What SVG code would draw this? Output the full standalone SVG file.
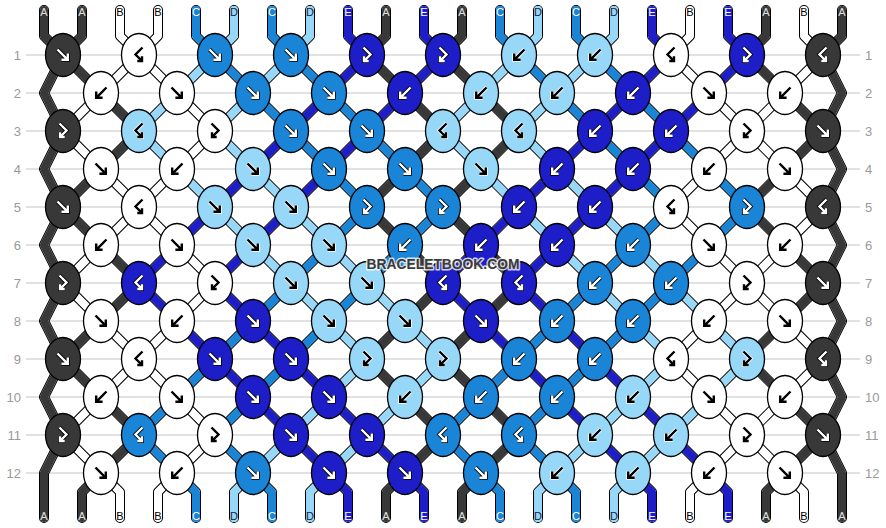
<svg xmlns="http://www.w3.org/2000/svg" width="886" height="528" viewBox="0 0 886 528">
<style>
.rl{stroke:#c4c4c4;stroke-width:1}
.rn{font-family:"Liberation Sans",Arial,sans-serif;font-size:13px;fill:#999}
.rnl{text-anchor:end}
.ol{fill:none;stroke:#000;stroke-width:10;stroke-linecap:round;stroke-linejoin:round}
.wh{fill:none;stroke:#fff;stroke-width:8;stroke-linecap:round;stroke-linejoin:round}
.cA,.cC,.cD,.cE{fill:none;stroke-width:8;stroke-linecap:round;stroke-linejoin:round}
.cA{stroke:#383838}.cC{stroke:#1a84d6}.cD{stroke:#97d7f7}.cE{stroke:#1e1ec8}
.sl{font-family:"Liberation Sans",Arial,sans-serif;font-size:11px;text-anchor:middle}
.tA{fill:#e0e0e0}.tB{fill:#000}.tC{fill:#fff}.tD{fill:#1a1a40}.tE{fill:#fff}
.ar{fill:none;stroke-linecap:butt;stroke-linejoin:miter}
</style>
<defs>
<ellipse id="eA" rx="17.5" ry="21.5" fill="#383838" stroke="#000" stroke-width="1.3"/>
<ellipse id="eB" rx="17.5" ry="21.5" fill="#fff" stroke="#000" stroke-width="1.3"/>
<ellipse id="eC" rx="17.5" ry="21.5" fill="#1a84d6" stroke="#000" stroke-width="1.3"/>
<ellipse id="eD" rx="17.5" ry="21.5" fill="#97d7f7" stroke="#000" stroke-width="1.3"/>
<ellipse id="eE" rx="17.5" ry="21.5" fill="#1e1ec8" stroke="#000" stroke-width="1.3"/>
<path id="pF" d="M-5.5,-5.5L4.8,4.8M4.8,-1.6V4.8H-1.6"/>
<path id="pB" d="M5.5,-5.5L-4.8,4.8M-4.8,-1.6V4.8H1.6"/>
<path id="pFB" d="M-3.5,-7.5L3.5,-0.5L-3,6M-3,1.3V6H1.7"/>
<path id="pBF" d="M3.5,-7.5L-3.5,-0.5L3,6M3,1.3V6H-1.7"/>
<g id="Fw" class="ar"><use href="#pF" stroke="#000" stroke-width="4"/><use href="#pF" stroke="#fff" stroke-width="2.4"/></g>
<g id="Bw" class="ar"><use href="#pB" stroke="#000" stroke-width="4"/><use href="#pB" stroke="#fff" stroke-width="2.4"/></g>
<g id="FBw" class="ar"><use href="#pFB" stroke="#000" stroke-width="4"/><use href="#pFB" stroke="#fff" stroke-width="2.4"/></g>
<g id="BFw" class="ar"><use href="#pBF" stroke="#000" stroke-width="4"/><use href="#pBF" stroke="#fff" stroke-width="2.4"/></g>
<g id="Fb" class="ar"><use href="#pF" stroke="#fff" stroke-width="4"/><use href="#pF" stroke="#000" stroke-width="2.4"/></g>
<g id="Bb" class="ar"><use href="#pB" stroke="#fff" stroke-width="4"/><use href="#pB" stroke="#000" stroke-width="2.4"/></g>
<g id="FBb" class="ar"><use href="#pFB" stroke="#fff" stroke-width="4"/><use href="#pFB" stroke="#000" stroke-width="2.4"/></g>
<g id="BFb" class="ar"><use href="#pBF" stroke="#fff" stroke-width="4"/><use href="#pBF" stroke="#000" stroke-width="2.4"/></g>
<path id="zE" d="M0,10V36L19,55L-19,93L19,131L-19,169L19,207L-19,245L19,283L-19,321L19,359L-19,397L19,435L-19,473L0,492V518"/>
<path id="zO" d="M0,10V36L-19,55L19,93L-19,131L19,169L-19,207L19,245L-19,283L19,321L-19,359L19,397L-19,435L19,473L0,492V518"/>
<path id="z0" d="M0,10V36L19,55L0,93L19,131L0,169L19,207L0,245L19,283L0,321L19,359L0,397L19,435L0,473V518"/>
<path id="z21" d="M0,10V36L-19,55L0,93L-19,131L0,169L-19,207L0,245L-19,283L0,321L-19,359L0,397L-19,435L0,473V518"/>
<g id="allz">
<use href="#z0" x="44"/><use href="#zO" x="82"/><use href="#zE" x="120"/><use href="#zO" x="158"/><use href="#zE" x="196"/><use href="#zO" x="234"/><use href="#zE" x="272"/><use href="#zO" x="310"/><use href="#zE" x="348"/><use href="#zO" x="386"/><use href="#zE" x="424"/><use href="#zO" x="462"/><use href="#zE" x="500"/><use href="#zO" x="538"/><use href="#zE" x="576"/><use href="#zO" x="614"/><use href="#zE" x="652"/><use href="#zO" x="690"/><use href="#zE" x="728"/><use href="#zO" x="766"/><use href="#zE" x="804"/><use href="#z21" x="842"/>
</g>
<g id="c1"><path class="cA" d="M0,10V36L-19,55L19,93M19,169L-19,207L19,245M19,321L-19,359L19,397M19,473L0,492V518"/></g>
<g id="c2"><path class="cA" d="M-19,93L19,131L-19,169M-19,245L19,283L-19,321M-19,397L19,435L-19,473"/></g>
<g id="c3"><path class="cD" d="M19,93L-19,131L19,169"/><path class="cE" d="M19,245L-19,283L19,321"/><path class="cC" d="M19,397L-19,435L19,473"/></g>
<g id="c4"><path class="cC" d="M0,10V36L19,55M19,359L-19,397M-19,473L0,492V518"/><path class="cD" d="M19,55L-19,93M-19,169L19,207"/><path class="cE" d="M19,207L-19,245M-19,321L19,359"/></g>
<g id="c5"><path class="cD" d="M0,10V36L-19,55M19,93L-19,131L19,169M-19,207L19,245M19,473L0,492V518"/><path class="cC" d="M-19,55L19,93M19,321L-19,359M19,397L-19,435L19,473"/><path class="cE" d="M19,169L-19,207M19,245L-19,283L19,321M-19,359L19,397"/></g>
<g id="c6"><path class="cC" d="M0,10V36L19,55M-19,93L19,131M19,283L-19,321M19,359L-19,397M-19,473L0,492V518"/><path class="cD" d="M19,55L-19,93M-19,169L19,207M-19,245L19,283M19,435L-19,473"/><path class="cE" d="M19,131L-19,169M19,207L-19,245M-19,321L19,359M-19,397L19,435"/></g>
<g id="c7"><path class="cD" d="M0,10V36L-19,55M-19,207L19,245M-19,283L19,321M19,397L-19,435M19,473L0,492V518"/><path class="cC" d="M-19,55L19,93M-19,131L19,169M19,245L-19,283M19,321L-19,359"/><path class="cE" d="M19,93L-19,131M19,169L-19,207M-19,359L19,397M-19,435L19,473"/></g>
<g id="c8"><path class="cE" d="M0,10V36L19,55L-19,93M19,131L-19,169M-19,397L19,435M-19,473L0,492V518"/><path class="cC" d="M-19,93L19,131M-19,169L19,207L-19,245M19,283L-19,321"/><path class="cD" d="M-19,245L19,283M-19,321L19,359L-19,397M19,435L-19,473"/></g>
<g id="c9"><path class="cA" d="M0,10V36L-19,55L19,93M19,169L-19,207L19,245M19,321L-19,359L19,397M19,473L0,492V518"/><path class="cE" d="M19,93L-19,131M-19,435L19,473"/><path class="cC" d="M-19,131L19,169M19,245L-19,283"/><path class="cD" d="M-19,283L19,321M19,397L-19,435"/></g>
<g id="c10"><path class="cE" d="M0,10V36L19,55L-19,93M-19,473L0,492V518"/><path class="cA" d="M-19,93L19,131L-19,169M-19,245L19,283L-19,321M-19,397L19,435L-19,473"/><path class="cC" d="M-19,169L19,207L-19,245"/><path class="cD" d="M-19,321L19,359L-19,397"/></g>
<g id="c11"><path class="cA" d="M0,10V36L-19,55L19,93M19,169L-19,207L19,245M19,321L-19,359L19,397M19,473L0,492V518"/><path class="cD" d="M19,93L-19,131L19,169"/><path class="cE" d="M19,245L-19,283L19,321"/><path class="cC" d="M19,397L-19,435L19,473"/></g>
<g id="c12"><path class="cC" d="M0,10V36L19,55M19,359L-19,397M-19,473L0,492V518"/><path class="cD" d="M19,55L-19,93M-19,169L19,207"/><path class="cA" d="M-19,93L19,131L-19,169M-19,245L19,283L-19,321M-19,397L19,435L-19,473"/><path class="cE" d="M19,207L-19,245M-19,321L19,359"/></g>
<g id="c17"><path class="cE" d="M19,93L-19,131M-19,435L19,473"/><path class="cC" d="M-19,131L19,169M19,245L-19,283"/><path class="cD" d="M-19,283L19,321M19,397L-19,435"/></g>
<g id="c18"><path class="cE" d="M0,10V36L19,55L-19,93M-19,473L0,492V518"/><path class="cC" d="M-19,169L19,207L-19,245"/><path class="cD" d="M-19,321L19,359L-19,397"/></g>
</defs>
<rect width="886" height="528" fill="#fff"/>
<g id="rows">
<path class="rl" d="M26,55H860M26,93H860M26,131H860M26,169H860M26,207H860M26,245H860M26,283H860M26,321H860M26,359H860M26,397H860M26,435H860M26,473H860"/>
<g class="rn rnl">
<text x="21" y="59.5">1</text><text x="21" y="97.5">2</text><text x="21" y="135.5">3</text><text x="21" y="173.5">4</text><text x="21" y="211.5">5</text><text x="21" y="249.5">6</text><text x="21" y="287.5">7</text><text x="21" y="325.5">8</text><text x="21" y="363.5">9</text><text x="21" y="401.5">10</text><text x="21" y="439.5">11</text><text x="21" y="477.5">12</text>
</g>
<g class="rn">
<text x="865" y="59.5">1</text><text x="865" y="97.5">2</text><text x="865" y="135.5">3</text><text x="865" y="173.5">4</text><text x="865" y="211.5">5</text><text x="865" y="249.5">6</text><text x="865" y="287.5">7</text><text x="865" y="325.5">8</text><text x="865" y="363.5">9</text><text x="865" y="401.5">10</text><text x="865" y="439.5">11</text><text x="865" y="477.5">12</text>
</g>
</g>
<g id="connectors">
<use href="#allz" class="ol"/>
<use href="#allz" class="wh"/>
<use href="#z0" x="44" class="cA"/><use href="#z21" x="842" class="cA"/>
<use href="#c1" x="82"/><use href="#c2" x="120"/><use href="#c3" x="158"/><use href="#c4" x="196"/><use href="#c5" x="234"/><use href="#c6" x="272"/><use href="#c7" x="310"/><use href="#c8" x="348"/><use href="#c9" x="386"/><use href="#c10" x="424"/><use href="#c11" x="462"/><use href="#c12" x="500"/><use href="#c5" x="538"/><use href="#c6" x="576"/><use href="#c7" x="614"/><use href="#c8" x="652"/><use href="#c17" x="690"/><use href="#c18" x="728"/><use href="#c1" x="766"/><use href="#c2" x="804"/>
</g>
<g id="knots">
<g id="n1-1" transform="translate(63,55)"><use href="#eA"/><use href="#Fw"/></g>
<g id="n1-2" transform="translate(139,55)"><use href="#eB"/><use href="#BFb"/></g>
<g id="n1-3" transform="translate(215,55)"><use href="#eC"/><use href="#Fw"/></g>
<g id="n1-4" transform="translate(291,55)"><use href="#eC"/><use href="#Fw"/></g>
<g id="n1-5" transform="translate(367,55)"><use href="#eE"/><use href="#FBw"/></g>
<g id="n1-6" transform="translate(443,55)"><use href="#eE"/><use href="#FBw"/></g>
<g id="n1-7" transform="translate(519,55)"><use href="#eD"/><use href="#Bb"/></g>
<g id="n1-8" transform="translate(595,55)"><use href="#eD"/><use href="#Bb"/></g>
<g id="n1-9" transform="translate(671,55)"><use href="#eB"/><use href="#BFb"/></g>
<g id="n1-10" transform="translate(747,55)"><use href="#eE"/><use href="#FBw"/></g>
<g id="n1-11" transform="translate(823,55)"><use href="#eA"/><use href="#BFw"/></g>

<g id="n2-1" transform="translate(101,93)"><use href="#eB"/><use href="#Bb"/></g>
<g id="n2-2" transform="translate(177,93)"><use href="#eB"/><use href="#Fb"/></g>
<g id="n2-3" transform="translate(253,93)"><use href="#eC"/><use href="#Fw"/></g>
<g id="n2-4" transform="translate(329,93)"><use href="#eC"/><use href="#Fw"/></g>
<g id="n2-5" transform="translate(405,93)"><use href="#eE"/><use href="#Bw"/></g>
<g id="n2-6" transform="translate(481,93)"><use href="#eD"/><use href="#Bb"/></g>
<g id="n2-7" transform="translate(557,93)"><use href="#eD"/><use href="#Bb"/></g>
<g id="n2-8" transform="translate(633,93)"><use href="#eE"/><use href="#Bw"/></g>
<g id="n2-9" transform="translate(709,93)"><use href="#eB"/><use href="#Fb"/></g>
<g id="n2-10" transform="translate(785,93)"><use href="#eB"/><use href="#Bb"/></g>

<g id="n3-1" transform="translate(63,131)"><use href="#eA"/><use href="#FBw"/></g>
<g id="n3-2" transform="translate(139,131)"><use href="#eD"/><use href="#BFb"/></g>
<g id="n3-3" transform="translate(215,131)"><use href="#eB"/><use href="#FBb"/></g>
<g id="n3-4" transform="translate(291,131)"><use href="#eC"/><use href="#Fw"/></g>
<g id="n3-5" transform="translate(367,131)"><use href="#eC"/><use href="#Fw"/></g>
<g id="n3-6" transform="translate(443,131)"><use href="#eD"/><use href="#BFb"/></g>
<g id="n3-7" transform="translate(519,131)"><use href="#eD"/><use href="#BFb"/></g>
<g id="n3-8" transform="translate(595,131)"><use href="#eE"/><use href="#Bw"/></g>
<g id="n3-9" transform="translate(671,131)"><use href="#eE"/><use href="#Bw"/></g>
<g id="n3-10" transform="translate(747,131)"><use href="#eB"/><use href="#FBb"/></g>
<g id="n3-11" transform="translate(823,131)"><use href="#eA"/><use href="#Fw"/></g>

<g id="n4-1" transform="translate(101,169)"><use href="#eB"/><use href="#Fb"/></g>
<g id="n4-2" transform="translate(177,169)"><use href="#eB"/><use href="#Bb"/></g>
<g id="n4-3" transform="translate(253,169)"><use href="#eD"/><use href="#Fb"/></g>
<g id="n4-4" transform="translate(329,169)"><use href="#eC"/><use href="#Fw"/></g>
<g id="n4-5" transform="translate(405,169)"><use href="#eC"/><use href="#Fw"/></g>
<g id="n4-6" transform="translate(481,169)"><use href="#eD"/><use href="#Fb"/></g>
<g id="n4-7" transform="translate(557,169)"><use href="#eE"/><use href="#Bw"/></g>
<g id="n4-8" transform="translate(633,169)"><use href="#eE"/><use href="#Bw"/></g>
<g id="n4-9" transform="translate(709,169)"><use href="#eB"/><use href="#Bb"/></g>
<g id="n4-10" transform="translate(785,169)"><use href="#eB"/><use href="#Fb"/></g>

<g id="n5-1" transform="translate(63,207)"><use href="#eA"/><use href="#Fw"/></g>
<g id="n5-2" transform="translate(139,207)"><use href="#eB"/><use href="#BFb"/></g>
<g id="n5-3" transform="translate(215,207)"><use href="#eD"/><use href="#Fb"/></g>
<g id="n5-4" transform="translate(291,207)"><use href="#eD"/><use href="#Fb"/></g>
<g id="n5-5" transform="translate(367,207)"><use href="#eC"/><use href="#FBw"/></g>
<g id="n5-6" transform="translate(443,207)"><use href="#eC"/><use href="#FBw"/></g>
<g id="n5-7" transform="translate(519,207)"><use href="#eE"/><use href="#Bw"/></g>
<g id="n5-8" transform="translate(595,207)"><use href="#eE"/><use href="#Bw"/></g>
<g id="n5-9" transform="translate(671,207)"><use href="#eB"/><use href="#BFb"/></g>
<g id="n5-10" transform="translate(747,207)"><use href="#eC"/><use href="#FBw"/></g>
<g id="n5-11" transform="translate(823,207)"><use href="#eA"/><use href="#BFw"/></g>

<g id="n6-1" transform="translate(101,245)"><use href="#eB"/><use href="#Bb"/></g>
<g id="n6-2" transform="translate(177,245)"><use href="#eB"/><use href="#Fb"/></g>
<g id="n6-3" transform="translate(253,245)"><use href="#eD"/><use href="#Fb"/></g>
<g id="n6-4" transform="translate(329,245)"><use href="#eD"/><use href="#Fb"/></g>
<g id="n6-5" transform="translate(405,245)"><use href="#eC"/><use href="#Bw"/></g>
<g id="n6-6" transform="translate(481,245)"><use href="#eE"/><use href="#Bw"/></g>
<g id="n6-7" transform="translate(557,245)"><use href="#eE"/><use href="#Bw"/></g>
<g id="n6-8" transform="translate(633,245)"><use href="#eC"/><use href="#Bw"/></g>
<g id="n6-9" transform="translate(709,245)"><use href="#eB"/><use href="#Fb"/></g>
<g id="n6-10" transform="translate(785,245)"><use href="#eB"/><use href="#Bb"/></g>

<g id="n7-1" transform="translate(63,283)"><use href="#eA"/><use href="#FBw"/></g>
<g id="n7-2" transform="translate(139,283)"><use href="#eE"/><use href="#BFw"/></g>
<g id="n7-3" transform="translate(215,283)"><use href="#eB"/><use href="#FBb"/></g>
<g id="n7-4" transform="translate(291,283)"><use href="#eD"/><use href="#Fb"/></g>
<g id="n7-5" transform="translate(367,283)"><use href="#eD"/><use href="#Fb"/></g>
<g id="n7-6" transform="translate(443,283)"><use href="#eE"/><use href="#BFw"/></g>
<g id="n7-7" transform="translate(519,283)"><use href="#eE"/><use href="#BFw"/></g>
<g id="n7-8" transform="translate(595,283)"><use href="#eC"/><use href="#Bw"/></g>
<g id="n7-9" transform="translate(671,283)"><use href="#eC"/><use href="#Bw"/></g>
<g id="n7-10" transform="translate(747,283)"><use href="#eB"/><use href="#FBb"/></g>
<g id="n7-11" transform="translate(823,283)"><use href="#eA"/><use href="#Fw"/></g>

<g id="n8-1" transform="translate(101,321)"><use href="#eB"/><use href="#Fb"/></g>
<g id="n8-2" transform="translate(177,321)"><use href="#eB"/><use href="#Bb"/></g>
<g id="n8-3" transform="translate(253,321)"><use href="#eE"/><use href="#Fw"/></g>
<g id="n8-4" transform="translate(329,321)"><use href="#eD"/><use href="#Fb"/></g>
<g id="n8-5" transform="translate(405,321)"><use href="#eD"/><use href="#Fb"/></g>
<g id="n8-6" transform="translate(481,321)"><use href="#eE"/><use href="#Fw"/></g>
<g id="n8-7" transform="translate(557,321)"><use href="#eC"/><use href="#Bw"/></g>
<g id="n8-8" transform="translate(633,321)"><use href="#eC"/><use href="#Bw"/></g>
<g id="n8-9" transform="translate(709,321)"><use href="#eB"/><use href="#Bb"/></g>
<g id="n8-10" transform="translate(785,321)"><use href="#eB"/><use href="#Fb"/></g>

<g id="n9-1" transform="translate(63,359)"><use href="#eA"/><use href="#Fw"/></g>
<g id="n9-2" transform="translate(139,359)"><use href="#eB"/><use href="#BFb"/></g>
<g id="n9-3" transform="translate(215,359)"><use href="#eE"/><use href="#Fw"/></g>
<g id="n9-4" transform="translate(291,359)"><use href="#eE"/><use href="#Fw"/></g>
<g id="n9-5" transform="translate(367,359)"><use href="#eD"/><use href="#FBb"/></g>
<g id="n9-6" transform="translate(443,359)"><use href="#eD"/><use href="#FBb"/></g>
<g id="n9-7" transform="translate(519,359)"><use href="#eC"/><use href="#Bw"/></g>
<g id="n9-8" transform="translate(595,359)"><use href="#eC"/><use href="#Bw"/></g>
<g id="n9-9" transform="translate(671,359)"><use href="#eB"/><use href="#BFb"/></g>
<g id="n9-10" transform="translate(747,359)"><use href="#eD"/><use href="#FBb"/></g>
<g id="n9-11" transform="translate(823,359)"><use href="#eA"/><use href="#BFw"/></g>

<g id="n10-1" transform="translate(101,397)"><use href="#eB"/><use href="#Bb"/></g>
<g id="n10-2" transform="translate(177,397)"><use href="#eB"/><use href="#Fb"/></g>
<g id="n10-3" transform="translate(253,397)"><use href="#eE"/><use href="#Fw"/></g>
<g id="n10-4" transform="translate(329,397)"><use href="#eE"/><use href="#Fw"/></g>
<g id="n10-5" transform="translate(405,397)"><use href="#eD"/><use href="#Bb"/></g>
<g id="n10-6" transform="translate(481,397)"><use href="#eC"/><use href="#Bw"/></g>
<g id="n10-7" transform="translate(557,397)"><use href="#eC"/><use href="#Bw"/></g>
<g id="n10-8" transform="translate(633,397)"><use href="#eD"/><use href="#Bb"/></g>
<g id="n10-9" transform="translate(709,397)"><use href="#eB"/><use href="#Fb"/></g>
<g id="n10-10" transform="translate(785,397)"><use href="#eB"/><use href="#Bb"/></g>

<g id="n11-1" transform="translate(63,435)"><use href="#eA"/><use href="#FBw"/></g>
<g id="n11-2" transform="translate(139,435)"><use href="#eC"/><use href="#BFw"/></g>
<g id="n11-3" transform="translate(215,435)"><use href="#eB"/><use href="#FBb"/></g>
<g id="n11-4" transform="translate(291,435)"><use href="#eE"/><use href="#Fw"/></g>
<g id="n11-5" transform="translate(367,435)"><use href="#eE"/><use href="#Fw"/></g>
<g id="n11-6" transform="translate(443,435)"><use href="#eC"/><use href="#BFw"/></g>
<g id="n11-7" transform="translate(519,435)"><use href="#eC"/><use href="#BFw"/></g>
<g id="n11-8" transform="translate(595,435)"><use href="#eD"/><use href="#Bb"/></g>
<g id="n11-9" transform="translate(671,435)"><use href="#eD"/><use href="#Bb"/></g>
<g id="n11-10" transform="translate(747,435)"><use href="#eB"/><use href="#FBb"/></g>
<g id="n11-11" transform="translate(823,435)"><use href="#eA"/><use href="#Fw"/></g>

<g id="n12-1" transform="translate(101,473)"><use href="#eB"/><use href="#Fb"/></g>
<g id="n12-2" transform="translate(177,473)"><use href="#eB"/><use href="#Bb"/></g>
<g id="n12-3" transform="translate(253,473)"><use href="#eC"/><use href="#Fw"/></g>
<g id="n12-4" transform="translate(329,473)"><use href="#eE"/><use href="#Fw"/></g>
<g id="n12-5" transform="translate(405,473)"><use href="#eE"/><use href="#Fw"/></g>
<g id="n12-6" transform="translate(481,473)"><use href="#eC"/><use href="#Fw"/></g>
<g id="n12-7" transform="translate(557,473)"><use href="#eD"/><use href="#Bb"/></g>
<g id="n12-8" transform="translate(633,473)"><use href="#eD"/><use href="#Bb"/></g>
<g id="n12-9" transform="translate(709,473)"><use href="#eB"/><use href="#Bb"/></g>
<g id="n12-10" transform="translate(785,473)"><use href="#eB"/><use href="#Fb"/></g>
</g>
<g id="labels-top" class="sl">
<text x="44" y="16" class="tA">A</text><text x="82" y="16" class="tA">A</text><text x="120" y="16" class="tB">B</text><text x="158" y="16" class="tB">B</text><text x="196" y="16" class="tC">C</text><text x="234" y="16" class="tD">D</text><text x="272" y="16" class="tC">C</text><text x="310" y="16" class="tD">D</text><text x="348" y="16" class="tE">E</text><text x="386" y="16" class="tA">A</text><text x="424" y="16" class="tE">E</text><text x="462" y="16" class="tA">A</text><text x="500" y="16" class="tC">C</text><text x="538" y="16" class="tD">D</text><text x="576" y="16" class="tC">C</text><text x="614" y="16" class="tD">D</text><text x="652" y="16" class="tE">E</text><text x="690" y="16" class="tB">B</text><text x="728" y="16" class="tE">E</text><text x="766" y="16" class="tA">A</text><text x="804" y="16" class="tB">B</text><text x="842" y="16" class="tA">A</text>
</g>
<g id="labels-bottom" class="sl">
<text x="44" y="520" class="tA">A</text><text x="82" y="520" class="tA">A</text><text x="120" y="520" class="tB">B</text><text x="158" y="520" class="tB">B</text><text x="196" y="520" class="tC">C</text><text x="234" y="520" class="tD">D</text><text x="272" y="520" class="tC">C</text><text x="310" y="520" class="tD">D</text><text x="348" y="520" class="tE">E</text><text x="386" y="520" class="tA">A</text><text x="424" y="520" class="tE">E</text><text x="462" y="520" class="tA">A</text><text x="500" y="520" class="tC">C</text><text x="538" y="520" class="tD">D</text><text x="576" y="520" class="tC">C</text><text x="614" y="520" class="tD">D</text><text x="652" y="520" class="tE">E</text><text x="690" y="520" class="tB">B</text><text x="728" y="520" class="tE">E</text><text x="766" y="520" class="tA">A</text><text x="804" y="520" class="tB">B</text><text x="842" y="520" class="tA">A</text>
</g>
<text x="443" y="268.5" font-family="'Liberation Sans',Arial,sans-serif" font-weight="bold" font-size="15" text-anchor="middle" fill="#3a3a3a" stroke="#fff" stroke-opacity="0.8" stroke-width="3" stroke-linejoin="round" paint-order="stroke" textLength="153" lengthAdjust="spacingAndGlyphs">BRACELETBOOK.COM</text>
</svg>
